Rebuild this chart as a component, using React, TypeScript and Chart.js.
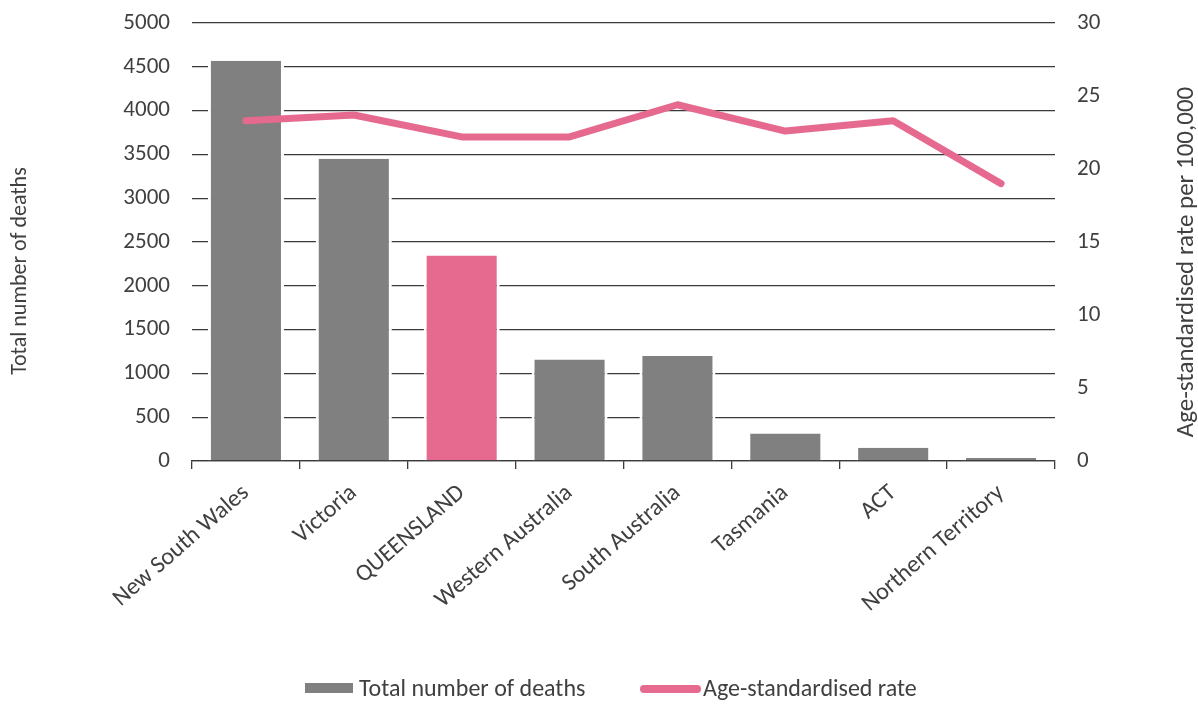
import React, { useEffect, useRef } from 'react';
import { Chart, registerables } from 'chart.js';
Chart.register(...registerables);

const categories = ['New South Wales', 'Victoria', 'QUEENSLAND', 'Western Australia', 'South Australia', 'Tasmania', 'ACT', 'Northern Territory'];
const deaths = [4570, 3450, 2345, 1160, 1200, 315, 150, 35];
const rates = [23.3, 23.7, 22.2, 22.2, 24.4, 22.6, 23.3, 19.0];
const highlightIndex = 2;
const leftTitle = 'Total number of deaths';
const rightTitle = 'Age-standardised rate per 100,000';
const barLabel = 'Total number of deaths';
const lineLabel = 'Age-standardised rate';

const FONT = 'Carlito, Lato, "Open Sans", sans-serif';
const GRAY = '#808080';
const PINK = '#E66A8F';
const TEXT = '#404040';
const GRID = '#3a3a3a';

export default function App() {
  const ref = useRef<HTMLCanvasElement>(null);
  useEffect(() => {
    document.body.style.margin = '0';
    const canvas = ref.current!;
    const decor = {
      id: 'decor',
      afterDraw(chart: any) {
        const c = chart.ctx;
        c.save();
        c.fillStyle = TEXT;
        c.textAlign = 'center';
        c.textBaseline = 'middle';
        c.save();
        c.font = `22px ${FONT}`;
        c.translate(20, 271);
        c.rotate(-Math.PI / 2);
        c.fillText(leftTitle, 0, 0);
        c.restore();
        c.save();
        c.font = `25px ${FONT}`;
        c.translate(1187, 262);
        c.rotate(-Math.PI / 2);
        c.fillText(rightTitle, 0, 0);
        c.restore();
        // legend
        c.font = `24px ${FONT}`;
        c.fillStyle = GRAY;
        c.fillRect(305, 683, 48, 10);
        c.fillStyle = TEXT;
        c.textAlign = 'left';
        c.fillText(barLabel, 359, 690);
        c.strokeStyle = PINK;
        c.lineWidth = 8;
        c.lineCap = 'round';
        c.beginPath();
        c.moveTo(644, 689);
        c.lineTo(697, 689);
        c.stroke();
        c.fillText(lineLabel, 703, 690);
        c.restore();
      },
    };
    const plain = (v: any) => String(v);
    const zeroPad = (s: any) => {
      s.paddingTop = 0;
      s.paddingBottom = 0;
      s.paddingLeft = 0;
      s.paddingRight = 0;
    };
    const chart = new Chart(canvas, {
      type: 'bar',
      data: {
        labels: categories,
        datasets: [
          {
            type: 'line',
            label: lineLabel,
            data: rates,
            yAxisID: 'y1',
            borderColor: PINK,
            backgroundColor: PINK,
            borderWidth: 7,
            pointRadius: 0,
            borderCapStyle: 'round',
            borderJoinStyle: 'round',
            tension: 0,
            order: 0,
          } as any,
          {
            type: 'bar',
            label: barLabel,
            data: deaths,
            yAxisID: 'y',
            backgroundColor: categories.map((_, i) => (i === highlightIndex ? PINK : GRAY)),
            borderColor: '#ffffff',
            borderWidth: { left: 3, right: 3, top: 0, bottom: 0 },
            borderSkipped: false,
            categoryPercentage: 1,
            barPercentage: 0.705,
            order: 1,
          } as any,
        ],
      },
      options: {
        animation: false,
        responsive: true,
        maintainAspectRatio: false,
        layout: { padding: { top: 23, bottom: 0, left: 0, right: 0 } },
        plugins: { legend: { display: false }, tooltip: { enabled: false } },
        scales: {
          x: {
            offset: true,
            grid: { display: true, drawOnChartArea: false, drawTicks: true, tickLength: 8, color: GRID, lineWidth: 1.3 },
            border: { display: true, color: GRID, width: 1.3 },
            ticks: { minRotation: 41, maxRotation: 41, autoSkip: false, padding: 10, color: TEXT, font: { family: FONT, size: 24 } },
            afterFit: (s: any) => { s.height = 243; zeroPad(s); },
          },
          y: {
            position: 'left',
            min: 0,
            max: 5000,
            ticks: { stepSize: 500, padding: 22, color: TEXT, font: { family: FONT, size: 23 }, callback: plain },
            grid: { color: GRID, lineWidth: 1.3, drawTicks: false },
            border: { display: false },
            afterFit: (s: any) => { s.width = 192; zeroPad(s); },
          },
          y1: {
            position: 'right',
            min: 0,
            max: 30,
            ticks: { stepSize: 5, padding: 22, color: TEXT, font: { family: FONT, size: 23 }, callback: plain },
            grid: { drawOnChartArea: false, drawTicks: false },
            border: { display: false },
            afterFit: (s: any) => { s.width = 143; zeroPad(s); },
          },
        },
      },
      plugins: [decor],
    });
    return () => chart.destroy();
  }, []);
  return (
    <div style={{ width: 1198, height: 704, position: 'relative' }}>
      <canvas ref={ref} />
    </div>
  );
}
